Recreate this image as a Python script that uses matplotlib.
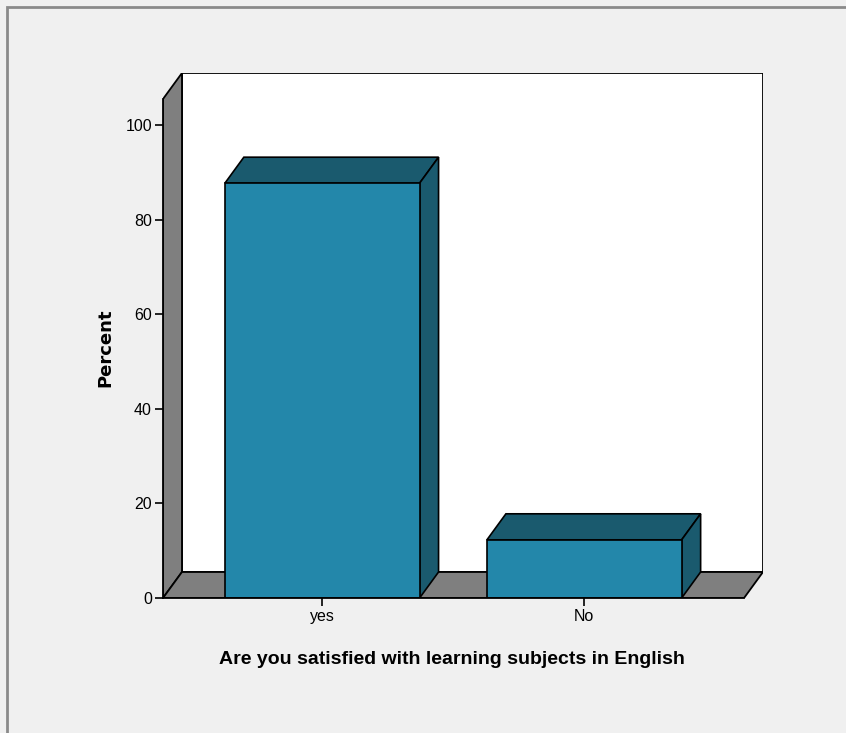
import matplotlib
matplotlib.use("Agg")
import matplotlib.pyplot as plt
from matplotlib.patches import Polygon, Rectangle

# data
categories = ["yes", "No"]
percents = [87.7, 12.3]
yticks = [0, 20, 40, 60, 80, 100]

plt.rcParams['font.family'] = ['Liberation Sans Narrow', 'Liberation Sans', 'DejaVu Sans']

face = "#2387aa"
dark = "#1a5a6e"
wall = "#7f7f7f"
bg = "#f0f0f0"

W, H = 846, 733
fig = plt.figure(figsize=(W / 100, H / 100), dpi=100, facecolor=bg)

# screenshot frame (top + left edge)
fig.patches.append(Rectangle((7 / W, -0.1), 1.2, (H - 7) / H + 0.1, transform=fig.transFigure,
                             fill=False, edgecolor="#8a8a8a", linewidth=2))

# axes box covers the front plane plus depth
ax = fig.add_axes([163 / W, (H - 598) / H, (763 - 163) / W, (598 - 73) / H])
ax.set_facecolor("none")

x0, x1 = -0.6076, 1.6095          # front plane extent in category units
top = 105.5                       # front top of wall in percent
dx, dy = 0.0724, 5.5              # depth offset
bw = 0.743                        # bar width

ax.set_xlim(x0, x1 + dx)
ax.set_ylim(0, top + dy)

# back wall
ax.add_patch(Rectangle((x0 + dx, dy), x1 - x0, top, facecolor="white", edgecolor="black",
                       linewidth=1.3, zorder=1))
# side wall
ax.add_patch(Polygon([(x0, 0), (x0, top), (x0 + dx, top + dy), (x0 + dx, dy)], closed=True,
                     facecolor=wall, edgecolor="black", linewidth=1.3, zorder=2))
# floor
ax.add_patch(Polygon([(x0, 0), (x1, 0), (x1 + dx, dy), (x0 + dx, dy)], closed=True,
                     facecolor=wall, edgecolor="black", linewidth=1.3, zorder=2))

for i, v in enumerate(percents):
    l, r = i - bw / 2, i + bw / 2
    ax.add_patch(Polygon([(l, v), (r, v), (r + dx, v + dy), (l + dx, v + dy)], closed=True,
                         facecolor=dark, edgecolor="black", linewidth=1.2, zorder=3))
    ax.add_patch(Polygon([(r, 0), (r + dx, dy), (r + dx, v + dy), (r, v)], closed=True,
                         facecolor=dark, edgecolor="black", linewidth=1.2, zorder=3))
    ax.add_patch(Rectangle((l, 0), bw, v, facecolor=face, edgecolor="black",
                           linewidth=1.2, zorder=4))

for s in ["top", "right"]:
    ax.spines[s].set_visible(False)
ax.spines["left"].set_bounds(0, top)
ax.spines["bottom"].set_bounds(x0, x1)
ax.spines["left"].set_linewidth(1.3)
ax.spines["bottom"].set_linewidth(1.3)
ax.spines["left"].set_zorder(5)
ax.spines["bottom"].set_zorder(5)

ax.set_yticks(yticks)
ax.set_xticks(range(len(categories)))
ax.set_xticklabels(categories)
ax.tick_params(axis="both", length=6, width=1.2, labelsize=11.5, pad=2, colors="black")

ax.set_ylabel("Percent", fontsize=13, fontweight="bold", family=['DejaVu Sans'])
ax.yaxis.set_label_coords((114 - 163) / (763 - 163), (598 - 348) / (598 - 73))
ax.set_xlabel("Are you satisfied with learning subjects in English", fontsize=14,
              fontweight="bold")
ax.xaxis.set_label_coords((452 - 163) / (763 - 163), -(651 - 598) / (598 - 73))

fig.savefig("out.png", dpi=100, facecolor=bg)
